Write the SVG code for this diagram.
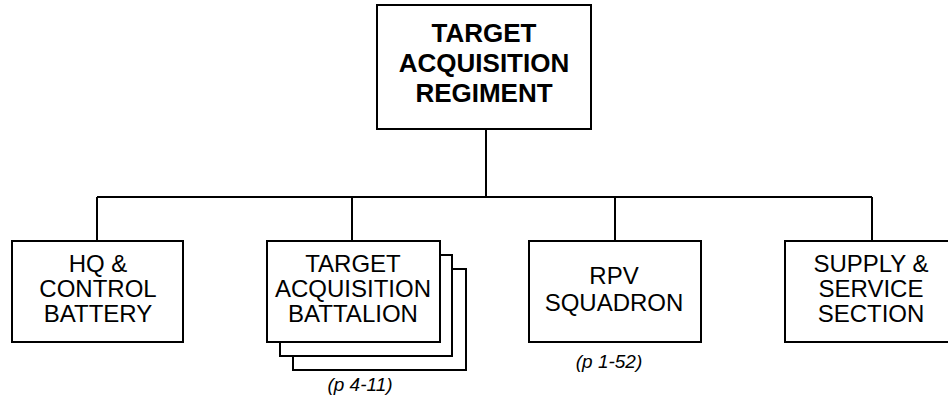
<svg xmlns="http://www.w3.org/2000/svg" width="948" height="405" viewBox="0 0 948 405">
<style>
.box{fill:#fff;stroke:#000;stroke-width:2}
.ln{fill:none;stroke:#000;stroke-width:2}
.t{font-family:"Liberation Sans",Arial,sans-serif;font-size:24px;text-anchor:middle;fill:#000}
.b{font-family:"Liberation Sans",Arial,sans-serif;font-size:26px;font-weight:bold;text-anchor:middle;fill:#000}
.r{font-family:"Liberation Sans",Arial,sans-serif;font-size:19px;font-style:italic;text-anchor:middle;fill:#000}
</style>
<rect width="948" height="405" fill="#fff"/>
<g id="connectors">
<path class="ln" d="M486 129V197M97 197H872M97 197V241M352 197V241M615 197V241M872 197V241"/>
</g>
<g id="regiment">
<rect class="box" x="377" y="5" width="214" height="124"/>
<text class="b" x="484" y="42">TARGET</text>
<text class="b" x="484" y="72">ACQUISITION</text>
<text class="b" x="484" y="102">REGIMENT</text>
</g>
<g id="hq">
<rect class="box" x="12" y="241" width="171" height="101"/>
<text class="t" x="98" y="272">HQ &amp;</text>
<text class="t" x="98" y="297">CONTROL</text>
<text class="t" x="98" y="322">BATTERY</text>
</g>
<g id="ta-battalion">
<rect class="box" x="293" y="269" width="173" height="101"/>
<rect class="box" x="280" y="255" width="172" height="101"/>
<rect class="box" x="267" y="241" width="173" height="101"/>
<text class="t" x="353" y="272">TARGET</text>
<text class="t" x="353" y="297">ACQUISITION</text>
<text class="t" x="353" y="322">BATTALION</text>
<text class="r" x="360" y="391">(p 4-11)</text>
</g>
<g id="rpv">
<rect class="box" x="529" y="241" width="172" height="101"/>
<text class="t" x="614" y="284">RPV</text>
<text class="t" x="614" y="311">SQUADRON</text>
<text class="r" x="609" y="368">(p 1-52)</text>
</g>
<g id="supply">
<rect class="box" x="785" y="241" width="172" height="101"/>
<text class="t" x="871" y="272">SUPPLY &amp;</text>
<text class="t" x="871" y="297">SERVICE</text>
<text class="t" x="871" y="322">SECTION</text>
</g>
</svg>
